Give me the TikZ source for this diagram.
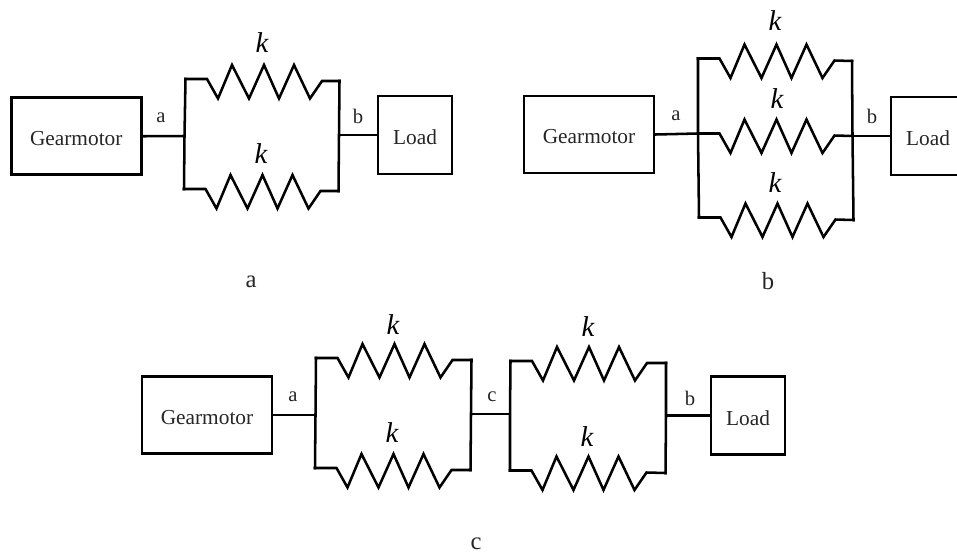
\documentclass[tikz,border=0pt]{standalone}
\usepackage{fontspec}
\setmainfont{Liberation Serif}
\tikzset{
  wire/.style={line width=1.9pt,line join=miter,line cap=rect},
  boxtext/.style={yshift=-1.9pt,inner sep=0pt,font=\fontsize{16}{18}\selectfont,text=black!85},
  motorbox/.style={draw,line width=2.1pt,minimum width=97.5pt,minimum height=57.75pt,inner sep=0pt,label={[boxtext]center:Gearmotor}},
  loadbox/.style={draw,line width=2.1pt,minimum width=55.5pt,minimum height=58.5pt,inner sep=0pt,label={[boxtext]center:Load}},
  termlabel/.style={inner sep=0pt,font=\fontsize{15.5}{18}\selectfont,text=black!85},
  klabel/.style={inner sep=0pt,font=\fontsize{21.5}{24}\selectfont\itshape},
  caplabel/.style={inner sep=0pt,font=\fontsize{18.5}{20}\selectfont,text=black!85}
}
% spring from named coordinate #1 to named coordinate #2
\newcommand{\springline}[2]{%
  \draw[wire] (#1) -- ++(21.5,0) -- ++(11,19.5) -- ++(14,-33.5) -- ++(17,33.5)
    -- ++(15,-33.5) -- ++(15,33.5) -- ++(15,-33.5) -- ++(16,33.5) -- ++(12,-17.5) -- (#2);}
\begin{document}
\begin{tikzpicture}[x=0.75pt,y=-0.75pt]
\useasboundingbox (0,0) rectangle (957,554);
\fill[white] (0,0) rectangle (957,554);

% ---------- panel a
\node[motorbox] (g1) at (76.25,136.25) {};
\node[loadbox] (l1) at (415,135) {};
\coordinate (a1t) at (185.5,79);
\coordinate (a1m) at (184.5,136);
\coordinate (a1b) at (184,189);
\coordinate (b1t) at (339.5,81);
\coordinate (b1m) at (339,135);
\coordinate (b1b) at (338.5,191);
\draw[wire] (a1t) -- (a1m) -- (a1b);
\draw[wire] (b1t) -- (b1m) -- (b1b);
\draw[wire] (g1.east) -- (a1m);
\draw[wire] (b1m) -- (l1.west);
\springline{a1t}{b1t}
\springline{a1b}{b1b}
\node[termlabel] (la1) at (161,118) {a};
\node[termlabel] (lb1) at (358,116) {b};
\node[klabel] (k1) at (262,43) {k};
\node[klabel] (k2) at (261,154) {k};
\node[caplabel] (capa) at (251,282) {a};

% ---------- panel b
\node[motorbox] (g2) at (589,134.5) {};
\node[loadbox] (l2) at (928,136) {};
\coordinate (a2t) at (698,58.5);
\coordinate (a2m) at (698,133.5);
\coordinate (a2b) at (699,217.5);
\coordinate (b2t) at (852,61);
\coordinate (b2m) at (852.5,136);
\coordinate (b2b) at (853.5,220);
\draw[wire] (a2t) -- (a2m) -- (a2b);
\draw[wire] (b2t) -- (b2m) -- (b2b);
\draw[wire] (g2.east) -- (a2m);
\draw[wire] (b2m) -- (l2.west);
\springline{a2t}{b2t}
\springline{a2m}{b2m}
\springline{a2b}{b2b}
\node[termlabel] (la2) at (676,116) {a};
\node[termlabel] (lb2) at (872,116) {b};
\node[klabel] (k3) at (775,21) {k};
\node[klabel] (k4) at (777,99) {k};
\node[klabel] (k5) at (775,183) {k};
\node[caplabel] (capb) at (768,281) {b};

% ---------- panel c
\node[motorbox] (g3) at (207,415) {};
\node[loadbox] (l3) at (748,415.5) {};
\coordinate (a3t) at (316,358);
\coordinate (a3m) at (315.5,415);
\coordinate (a3b) at (315,468);
\coordinate (c3t) at (471.5,360);
\coordinate (c3m) at (471,414);
\coordinate (c3b) at (470.5,470);
\coordinate (d3t) at (510.5,361);
\coordinate (d3m) at (510,414);
\coordinate (d3b) at (510,470.5);
\coordinate (b3t) at (666,363);
\coordinate (b3m) at (666,415.5);
\coordinate (b3b) at (665.5,473);
\draw[wire] (a3t) -- (a3m) -- (a3b);
\draw[wire] (c3t) -- (c3m) -- (c3b);
\draw[wire] (d3t) -- (d3m) -- (d3b);
\draw[wire] (b3t) -- (b3m) -- (b3b);
\draw[wire] (g3.east) -- (a3m);
\draw[wire] (c3m) -- (d3m);
\draw[wire] (b3m) -- (l3.west);
\springline{a3t}{c3t}
\springline{a3b}{c3b}
\springline{d3t}{b3t}
\springline{d3b}{b3b}
\node[termlabel] (la3) at (293,397) {a};
\node[termlabel] (lc3) at (492,397) {c};
\node[termlabel] (lb3) at (690,398) {b};
\node[klabel] (k6) at (393,325) {k};
\node[klabel] (k7) at (392,433) {k};
\node[klabel] (k8) at (588,327) {k};
\node[klabel] (k9) at (587,437) {k};
\node[caplabel] (capc) at (476,544) {c};
\end{tikzpicture}
\end{document}
